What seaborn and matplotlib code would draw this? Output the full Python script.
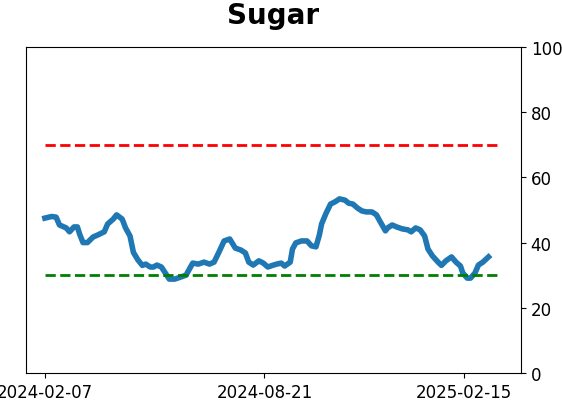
import pandas as pd
import matplotlib
matplotlib.use("Agg")
import matplotlib.pyplot as plt
import matplotlib.dates as mdates
import seaborn as sns

# --- dados ---
datas = [
    "2024-02-07", "2024-02-13", "2024-02-17", "2024-02-20", "2024-02-26", "2024-02-29",
    "2024-03-04", "2024-03-07", "2024-03-09", "2024-03-12", "2024-03-16", "2024-03-21",
    "2024-03-25", "2024-03-31", "2024-04-03", "2024-04-08", "2024-04-11", "2024-04-16",
    "2024-04-19", "2024-04-23", "2024-04-26", "2024-04-30", "2024-05-04", "2024-05-07",
    "2024-05-11", "2024-05-14", "2024-05-17", "2024-05-21", "2024-05-25", "2024-05-28",
    "2024-06-02", "2024-06-07", "2024-06-12", "2024-06-16", "2024-06-18", "2024-06-23",
    "2024-06-28", "2024-07-03", "2024-07-07", "2024-07-11", "2024-07-16", "2024-07-21",
    "2024-07-26", "2024-07-31", "2024-08-04", "2024-08-07", "2024-08-11", "2024-08-16",
    "2024-08-20", "2024-08-24", "2024-08-29", "2024-09-01", "2024-09-05", "2024-09-08",
    "2024-09-13", "2024-09-15", "2024-09-18", "2024-09-23", "2024-09-28", "2024-10-02",
    "2024-10-06", "2024-10-09", "2024-10-11", "2024-10-15", "2024-10-19", "2024-10-23",
    "2024-10-27", "2024-11-01", "2024-11-04", "2024-11-08", "2024-11-12", "2024-11-16",
    "2024-11-20", "2024-11-25", "2024-11-29", "2024-12-02", "2024-12-07", "2024-12-09",
    "2024-12-13", "2024-12-17", "2024-12-22", "2024-12-27", "2024-12-30", "2025-01-03",
    "2025-01-07", "2025-01-11", "2025-01-14", "2025-01-18", "2025-01-23", "2025-01-26",
    "2025-01-30", "2025-02-04", "2025-02-08", "2025-02-12", "2025-02-14", "2025-02-18",
    "2025-02-21", "2025-02-25", "2025-02-28", "2025-03-04", "2025-03-09",
]
valores = [
    47.5, 48.0, 47.8, 45.4, 44.5, 43.3,
    44.8, 44.8, 42.6, 40.0, 40.0, 41.7,
    42.3, 43.3, 45.7, 47.2, 48.5, 47.2,
    44.5, 42.0, 37.0, 34.7, 33.0, 33.4,
    32.5, 32.5, 33.1, 32.5, 30.4, 28.8,
    28.8, 29.4, 30.0, 32.5, 33.7, 33.4,
    34.0, 33.4, 34.0, 36.8, 40.5, 41.1,
    38.3, 37.7, 36.8, 34.0, 33.1, 34.4,
    33.7, 32.5, 33.1, 33.4, 33.7, 32.8,
    34.0, 38.0, 39.9, 40.5, 40.5, 39.0,
    38.7, 42.3, 45.7, 49.0, 51.8, 52.5,
    53.4, 53.0, 52.1, 51.8, 50.6, 49.7,
    49.4, 49.4, 48.5, 46.6, 43.6, 44.5,
    45.4, 44.8, 44.2, 43.9, 43.3, 44.5,
    43.9, 42.0, 38.0, 35.9, 34.0, 33.0,
    34.4, 35.6, 34.0, 32.8, 30.7, 29.1,
    29.1, 30.7, 33.1, 34.0, 35.6,
]
limite_superior = 70
limite_inferior = 30
inicio_limites = "2024-02-07"
fim_limites = "2025-03-18"
ticks_x = ["2024-02-07", "2024-08-21", "2025-02-15"]

df = pd.DataFrame({"data": pd.to_datetime(datas), "valor": valores})
datas_lim = pd.to_datetime([inicio_limites, fim_limites])

fig = plt.figure(figsize=(5.62, 4.02), dpi=100)
ax = fig.add_axes([0.046, 0.0697, 0.881, 0.811])

# série principal
sns.lineplot(x="data", y="valor", data=df, ax=ax, color="#1f77b4", linewidth=4)

# linhas de referência (70 / 30)
sns.lineplot(x=datas_lim, y=[limite_superior] * 2, ax=ax, color="red",
             linestyle="--", linewidth=2)
sns.lineplot(x=datas_lim, y=[limite_inferior] * 2, ax=ax, color="green",
             linestyle="--", linewidth=2)

ax.set_ylim(0, 100)
ax.set_xlim(pd.Timestamp("2024-01-21"), pd.Timestamp("2025-04-07"))
ax.yaxis.tick_right()
ax.set_yticks([0, 20, 40, 60, 80, 100])
ax.set_xticks(pd.to_datetime(ticks_x))
ax.xaxis.set_major_formatter(mdates.DateFormatter("%Y-%m-%d"))
ax.tick_params(labelsize=12)
ax.set_xlabel("")
ax.set_ylabel("")
ax.set_title("Sugar", fontsize=20, fontweight="bold", pad=17)

fig.savefig("out.png", dpi=100)
